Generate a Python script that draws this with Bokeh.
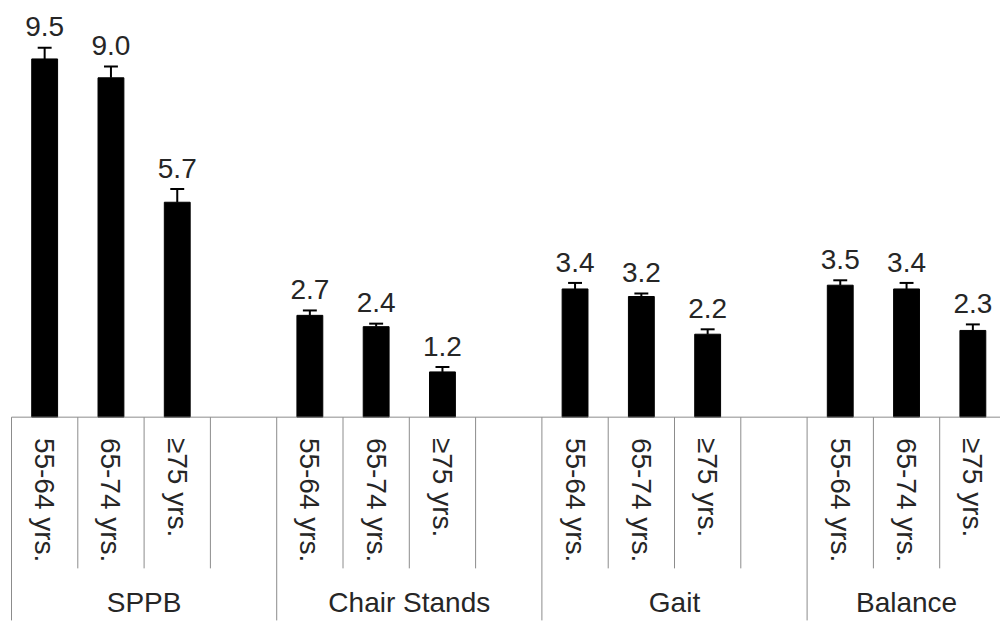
import math
from bokeh.plotting import figure
from bokeh.models import Range1d, ColumnDataSource
from bokeh.core.properties import value
from bokeh.embed import file_html
from bokeh.resources import INLINE

# ---- data ----
groups = ["SPPB", "Chair Stands", "Gait", "Balance"]
ages = ["55-64 yrs.", "65-74 yrs.", "\u226575 yrs."]
sppb = [9.5, 9.0, 5.7]
chair_stands = [2.7, 2.4, 1.2]
gait = [3.4, 3.2, 2.2]
balance = [3.5, 3.4, 2.3]
sppb_err = [0.30, 0.30, 0.35]
chair_stands_err = [0.13, 0.08, 0.13]
gait_err = [0.16, 0.08, 0.13]
balance_err = [0.13, 0.16, 0.16]

series = [sppb, chair_stands, gait, balance]
errors = [sppb_err, chair_stands_err, gait_err, balance_err]

FONT = "Liberation Sans"
TXT = "#262626"
GRID = "#8c8c8c"

# ---- slot layout: each group has one slot per age band, plus an empty slot between groups ----
xs, tops, errs, vals_txt, sub_txt = [], [], [], [], []
group_start, group_end = [], []
slot = 0
for g, (vals, es) in enumerate(zip(series, errors)):
    group_start.append(slot)
    for j, (v, e) in enumerate(zip(vals, es)):
        xs.append(slot + 0.5)
        tops.append(v)
        errs.append(e)
        vals_txt.append(f"{v:.1f}")
        sub_txt.append(ages[j])
        slot += 1
    if g < len(groups) - 1:
        slot += 1  # empty slot
    group_end.append(slot)
n_slots = slot

err_top = [t + e for t, e in zip(tops, errs)]
lab_y = [t + 0.55 for t in err_top]

src = ColumnDataSource(dict(x=xs, top=tops, etop=err_top, laby=lab_y, vtxt=vals_txt, stxt=sub_txt))

p = figure(width=1000, height=625,
           x_range=Range1d(-0.166, 14.917), y_range=Range1d(-5.525, 11.05),
           output_backend="svg", toolbar_location=None,
           x_axis_location=None, y_axis_location=None, min_border=0)
p.grid.visible = False
p.outline_line_color = None
p.background_fill_color = "white"
p.border_fill_color = "white"

# bars
p.vbar(x="x", top="top", bottom=0, width=0.39, source=src,
       fill_color="black", line_color="black")
# error bars
p.segment(x0="x", y0="top", x1="x", y1="etop", source=src, line_color="black", line_width=2)
cap = 0.105
p.segment(x0=[x - cap for x in xs], y0=err_top, x1=[x + cap for x in xs], y1=err_top,
          line_color="black", line_width=2)
# value labels
p.text(x="x", y="laby", text="vtxt", source=src, text_align="center",
       text_baseline="alphabetic", text_font=value(FONT), text_font_size="28px",
       text_color=TXT)

# category "table" below the baseline
p.segment(x0=[0], y0=[0], x1=[n_slots], y1=[0], line_color=GRID, line_width=1)
short_y = -4.01
long_y = -5.39
bounds_long = sorted(set(group_start + group_end))
bounds_short = [b for b in range(n_slots + 1) if b not in bounds_long]
p.segment(x0=bounds_short, y0=[0] * len(bounds_short), x1=bounds_short,
          y1=[short_y] * len(bounds_short), line_color=GRID, line_width=1)
p.segment(x0=bounds_long, y0=[0] * len(bounds_long), x1=bounds_long,
          y1=[long_y] * len(bounds_long), line_color=GRID, line_width=1)

# rotated age labels
p.text(x="x", y=-0.55, text="stxt", source=src, angle=-math.pi / 2,
       text_align="left", text_baseline="middle", text_font=value(FONT),
       text_font_size="28px", text_color=TXT)

# group labels
gx = [(a + b) / 2 for a, b in zip(group_start, group_end)]
p.text(x=gx, y=[-4.92] * len(gx), text=groups, text_align="center",
       text_baseline="middle", text_font=value(FONT), text_font_size="28px",
       text_color=TXT)

open("out.html", "w").write(file_html(p, INLINE))
